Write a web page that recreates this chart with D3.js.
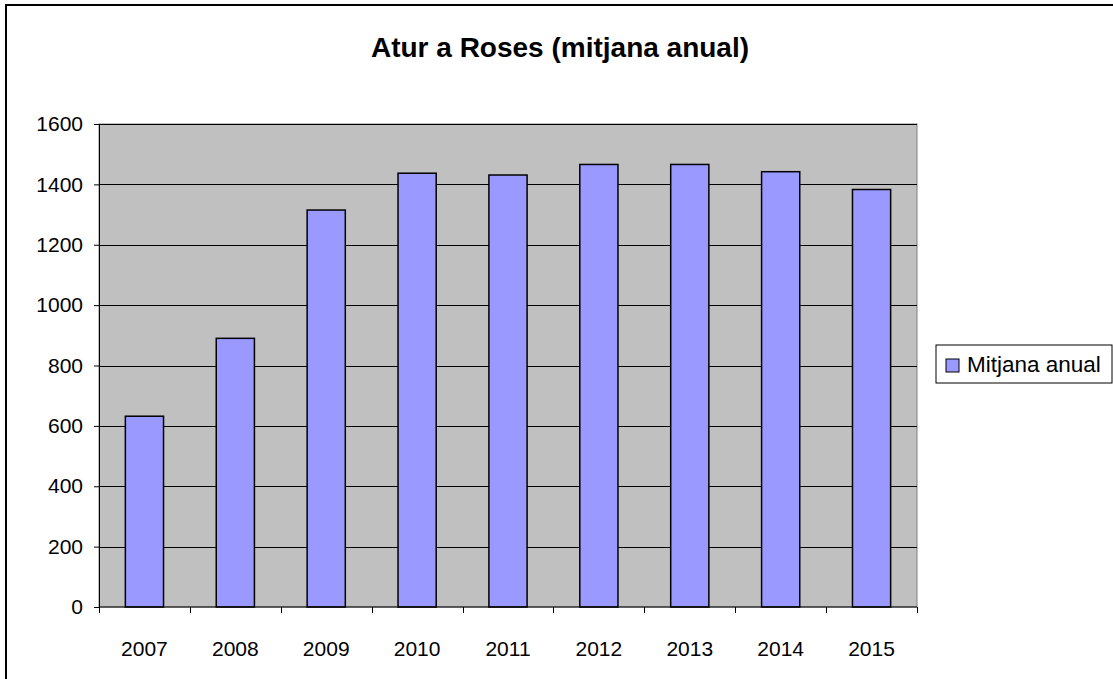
<!DOCTYPE html>
<html>
<head>
<meta charset="utf-8">
<script src="https://cdn.jsdelivr.net/npm/d3@7"></script>
<style>
  body { margin: 0; background: #fff; }
  svg { display: block; font-family: "Liberation Sans", Arial, sans-serif; }
</style>
</head>
<body>
<svg id="chart" width="1113" height="679"></svg>
<script>
const years = ["2007", "2008", "2009", "2010", "2011", "2012", "2013", "2014", "2015"];
const mitjana = [632, 890, 1315, 1437, 1431, 1466, 1466, 1442, 1383];
const yTicks = [0, 200, 400, 600, 800, 1000, 1200, 1400, 1600];
const seriesName = "Mitjana anual";
const title = "Atur a Roses (mitjana anual)";

const svg = d3.select("#chart");
const margin = { top: 124, left: 99, right: 196, bottom: 72 };
const width = +svg.attr("width");
const height = +svg.attr("height");
const innerWidth = width - margin.left - margin.right;
const innerHeight = height - margin.top - margin.bottom;

// outer frame (right and bottom edges fall outside the picture)
svg.append("rect")
  .attr("x", 6).attr("y", 5)
  .attr("width", 1120).attr("height", 700)
  .attr("fill", "#fff")
  .attr("stroke", "#000")
  .attr("stroke-width", 2);

svg.append("text")
  .attr("x", 560).attr("y", 57)
  .attr("text-anchor", "middle")
  .attr("font-size", 28)
  .attr("font-weight", "bold")
  .text(title);

const xScale = d3.scaleBand().domain(years).range([0, innerWidth]).paddingInner(0.58).paddingOuter(0.29);
const yScale = d3.scaleLinear().domain([0, 1600]).range([innerHeight, 0]);

const g = svg.append("g").attr("transform", `translate(${margin.left},${margin.top})`);

g.append("rect")
  .attr("width", innerWidth).attr("height", innerHeight)
  .attr("fill", "#c0c0c0")
  .attr("stroke", "#808080");

// gridlines
g.selectAll(".grid")
  .data(yTicks.filter((d) => d > 0))
  .enter()
  .append("line")
  .attr("x1", 0).attr("x2", innerWidth)
  .attr("y1", (d) => Math.round(yScale(d)) + 0.5)
  .attr("y2", (d) => Math.round(yScale(d)) + 0.5)
  .attr("stroke", "#000");

// bars
g.selectAll(".bar")
  .data(years)
  .enter()
  .append("rect")
  .attr("x", (d) => xScale(d))
  .attr("y", (d, i) => yScale(mitjana[i]))
  .attr("width", xScale.bandwidth())
  .attr("height", (d, i) => innerHeight - yScale(mitjana[i]))
  .attr("fill", "#9999ff")
  .attr("stroke", "#000")
  .attr("stroke-width", 1.5);

// y axis
const yAxisG = g.append("g")
  .call(d3.axisLeft(yScale).tickValues(yTicks).tickSize(5).tickPadding(11).tickFormat(d3.format("d")));
yAxisG.selectAll("text").attr("font-size", 21).attr("fill", "#000").attr("font-family", "Liberation Sans, Arial, sans-serif");
yAxisG.selectAll("line, path").attr("stroke", "#000");

// x axis
const xTick = d3.scaleLinear().domain([0, years.length]).range([0, innerWidth]);
const xAxisG = g.append("g").attr("transform", `translate(0,${innerHeight})`);
xAxisG.append("line").attr("x1", 0).attr("x2", innerWidth).attr("stroke", "#000");
xAxisG.selectAll(".xt")
  .data(d3.range(years.length + 1))
  .enter()
  .append("line")
  .attr("x1", (d) => Math.round(xTick(d)) + 0.5)
  .attr("x2", (d) => Math.round(xTick(d)) + 0.5)
  .attr("y1", 0).attr("y2", 6)
  .attr("stroke", "#000");
xAxisG.selectAll(".xl")
  .data(years)
  .enter()
  .append("text")
  .attr("x", (d) => xScale(d) + xScale.bandwidth() / 2)
  .attr("y", 49)
  .attr("text-anchor", "middle")
  .attr("font-size", 21)
  .text((d) => d);

// legend
const legend = svg.append("g").attr("transform", "translate(936,345)");
legend.append("rect")
  .attr("width", 176).attr("height", 38)
  .attr("fill", "#fff").attr("stroke", "#000");
legend.append("rect")
  .attr("x", 10).attr("y", 14)
  .attr("width", 13).attr("height", 13)
  .attr("fill", "#9999ff").attr("stroke", "#000");
legend.append("text")
  .attr("x", 31).attr("y", 27)
  .attr("font-size", 22.5)
  .text(seriesName);
</script>
</body>
</html>
